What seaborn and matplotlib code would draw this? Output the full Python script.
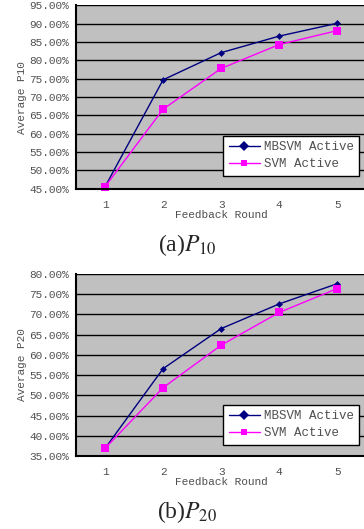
import matplotlib

matplotlib.use("Agg")
import matplotlib.pyplot as plt  # noqa: E402
import pandas as pd              # noqa: E402
import seaborn as sns            # noqa: E402
from matplotlib.ticker import FixedLocator, FuncFormatter  # noqa: E402

ROUNDS = [1, 2, 3, 4, 5]
P10_MBSVM = [45.6, 74.7, 82.1, 86.6, 90.1]
P10_SVM = [45.6, 66.7, 77.8, 84.3, 88.1]
P20_MBSVM = [36.9, 56.6, 66.5, 72.6, 77.6]
P20_SVM = [36.9, 51.9, 62.4, 70.5, 76.4]
SERIES = ["MBSVM Active", "SVM Active"]

MONO = "Liberation Mono"
TXT = "#505050"


def long_df(mbsvm, svm):
    rows = []
    for name, vals in zip(SERIES, (mbsvm, svm)):
        for r, v in zip(ROUNDS, vals):
            rows.append({"round": r, "value": v, "method": name})
    return pd.DataFrame(rows)


def draw(ax, df, ylo, yhi, ylabel, legend_y):
    ax.set_facecolor("#c0c0c0")
    sns.lineplot(data=df, x="round", y="value", hue="method", style="method",
                 palette={"MBSVM Active": "#000080", "SVM Active": "#ff00ff"},
                 markers={"MBSVM Active": "D", "SVM Active": "s"},
                 dashes=False, linewidth=1.0, ax=ax, clip_on=False,
                 markersize=5, markeredgewidth=0)
    for line, ms in zip(ax.lines, (3.5, 6)):
        line.set_markersize(ms)
    ax.set_xlim(0.5, 5.5)
    ax.set_ylim(ylo, yhi)
    ax.yaxis.set_major_locator(FixedLocator(range(ylo, yhi + 1, 5)))
    ax.yaxis.set_major_formatter(FuncFormatter(lambda v, _: f"{v:.2f}%"))
    ax.grid(axis="y", color="black", linewidth=1.0)
    ax.grid(axis="x", visible=False)
    ax.set_axisbelow(True)
    ax.set_xticks(ROUNDS)
    ax.set_xticks([1.5, 2.5, 3.5, 4.5], minor=True)
    ax.tick_params(axis="x", which="major", length=0, pad=8, labelsize=8, labelcolor=TXT)
    ax.tick_params(axis="x", which="minor", length=4, width=1, direction="in", color="black")
    ax.tick_params(axis="y", length=3, width=1, labelsize=8, labelcolor=TXT, pad=2)
    for lab in ax.get_xticklabels() + ax.get_yticklabels():
        lab.set_family(MONO)
    for s in ("top", "right"):
        ax.spines[s].set_visible(False)
    for s in ("left", "bottom"):
        ax.spines[s].set_color("black")
        ax.spines[s].set_linewidth(1.5)
    ax.set_xlabel("Feedback Round", family=MONO, fontsize=8, color=TXT, labelpad=0)
    ax.set_ylabel(ylabel, family=MONO, fontsize=8, color=TXT, labelpad=2)
    leg = ax.legend(loc="lower left", bbox_to_anchor=(0.507, legend_y),
                    prop={"family": MONO, "size": 9}, frameon=True, fancybox=False,
                    edgecolor="black", framealpha=1, borderpad=0.45, handlelength=2.5,
                    handletextpad=0.3, labelspacing=0.4, borderaxespad=0)
    leg.get_frame().set_linewidth(1.0)
    for t in leg.get_texts():
        t.set_color(TXT)


def main() -> None:
    sns.set_theme(style="white")
    plt.rcParams["mathtext.fontset"] = "stix"
    fig = plt.figure(figsize=(3.64, 5.29), dpi=100)
    ax1 = fig.add_axes([0.209, 0.643, 0.797, 0.347])
    ax2 = fig.add_axes([0.209, 0.138, 0.797, 0.344])
    draw(ax1, long_df(P10_MBSVM, P10_SVM), 45, 95, "Average P10", 0.07)
    draw(ax2, long_df(P20_MBSVM, P20_SVM), 35, 80, "Average P20", 0.06)
    fig.text(0.515, 0.537, r"(a)$P_{10}$", ha="center", va="center",
             family="Liberation Serif", fontsize=17)
    fig.text(0.515, 0.032, r"(b)$P_{20}$", ha="center", va="center",
             family="Liberation Serif", fontsize=17)
    fig.savefig("out.png", dpi=100)
    plt.close(fig)


if __name__ == "__main__":
    main()
